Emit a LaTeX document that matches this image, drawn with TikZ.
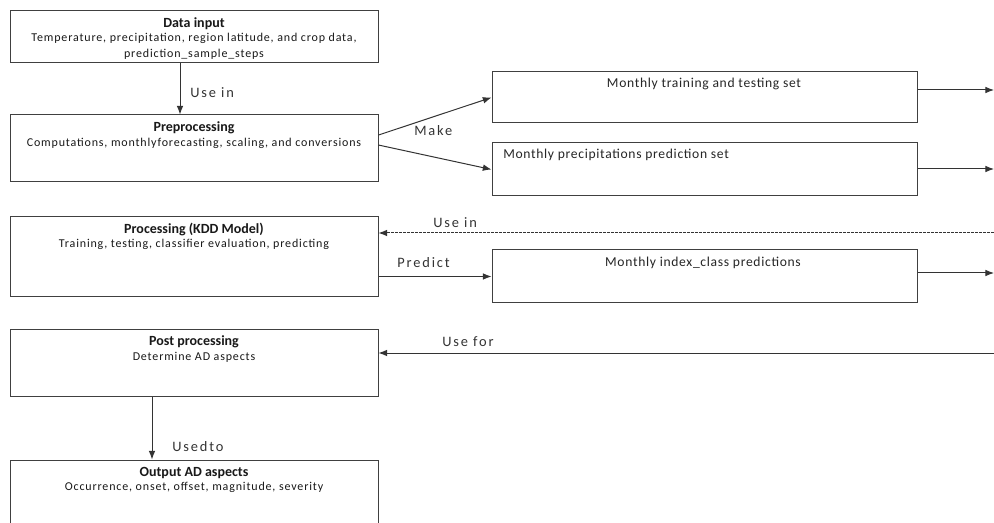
\documentclass[tikz,border=0pt]{standalone}
\usepackage{fontspec}
\setmainfont{Carlito}
\newfontfamily\subfont[LetterSpace=7]{Carlito}
\newfontfamily\midfont[LetterSpace=5]{Carlito}
\newfontfamily\lblfont[LetterSpace=13]{Carlito}
\usetikzlibrary{arrows.meta,fit}
\begin{document}
\begin{tikzpicture}[x=0.75pt,y=-0.75pt,
  box/.style={draw=black!75,line width=0.75pt,inner sep=0pt},
  ttl/.style={font=\bfseries\fontsize{10.5}{12}\selectfont,inner sep=0pt,text=black!90},
  sub/.style={font=\subfont\fontsize{9}{11}\selectfont,inner sep=0pt,text=black!90},
  mid/.style={font=\midfont\fontsize{10.2}{12}\selectfont,inner sep=0pt,text=black!85},
  lbl/.style={font=\lblfont\fontsize{10.8}{12}\selectfont,inner sep=0pt,text=black!80,anchor=west},
  conn/.style={draw=black!80,line width=0.75pt,-{Latex[length=6.5pt,width=5pt]}},
  back/.style={conn,dash pattern=on 2pt off 1pt}
]
\useasboundingbox (0,0) rectangle (994,523);
\clip (0,0) rectangle (994,523);
\fill[white] (0,0) rectangle (994,523);

% boxes
\node[box,fit={(10,11)(378,63)}] (data) {};
\node[box,fit={(10,115)(378,182)}] (pre) {};
\node[box,fit={(492,72)(917,123)}] (train) {};
\node[box,fit={(492,143)(917,196)}] (prec) {};
\node[box,fit={(10,217)(378,297)}] (proc) {};
\node[box,fit={(492,250)(917,303)}] (idx) {};
\node[box,fit={(10,330)(378,396)}] (post) {};
\node[box,fit={(10,460)(378,545)}] (out) {};

% box texts
\node[ttl] (dataT) at (194,24) {Data input};
\node[sub] (dataS1) at (194,38) {Temperature, precipitation, region latitude, and crop data,};
\node[sub] (dataS2) at (194,54) {prediction\_sample\_steps};
\node[ttl] (preT) at (194,128) {Preprocessing};
\node[sub] (preS) at (194,143) {Computations, monthlyforecasting, scaling, and conversions};
\node[mid] (trainT) at (704,84) {Monthly training and testing set};
\node[mid,anchor=west] (precT) at (503,155) {Monthly precipitations prediction set};
\node[ttl] (procT) at (194,229) {Processing (KDD Model)};
\node[sub] (procS) at (194,244) {Training, testing, classifier evaluation, predicting};
\node[mid] (idxT) at (703,263) {Monthly index\_class predictions};
\node[ttl] (postT) at (194,342) {Post processing};
\node[sub] (postS) at (194,357) {Determine AD aspects};
\node[ttl] (outT) at (194,473) {Output AD aspects};
\node[sub] (outS) at (194,487) {Occurrence, onset, offset, magnitude, severity};

% free ends at right edge
\coordinate (r1) at (994,90);
\coordinate (r2) at (994,169);
\coordinate (r3) at (994,273);
\coordinate (r4) at (994,233);
\coordinate (r5) at (994,353);

% connectors
\draw[conn] ([xshift=-10.5pt]data.south) -- ([xshift=-10.5pt]pre.north);
\draw[conn] ([yshift=10.1pt]pre.east) -- (train.west);
\draw[conn] ([yshift=2.6pt]pre.east) -- (prec.west);
\draw[conn] (train.east |- r1) -- (r1);
\draw[conn] (prec.east |- r2) -- (r2);
\draw[back] (r4) -- (proc.east |- r4);
\draw[conn] (proc.east |- idx.west) -- (idx.west);
\draw[conn] (idx.east |- r3) -- (r3);
\draw[conn] (r5) -- (post.east |- r5);
\draw[conn] ([xshift=-31.5pt]post.south) -- ([xshift=-31.5pt]out.north);

% connector labels
\node[lbl] (l1) at (190,93) {Use in};
\node[lbl] (l2) at (414,131) {Make};
\node[lbl] (l3) at (433,223) {Use in};
\node[lbl] (l4) at (397,263) {Predict};
\node[lbl] (l5) at (442,342) {Use for};
\node[lbl] (l6) at (172,447) {Usedto};
\end{tikzpicture}
\end{document}
